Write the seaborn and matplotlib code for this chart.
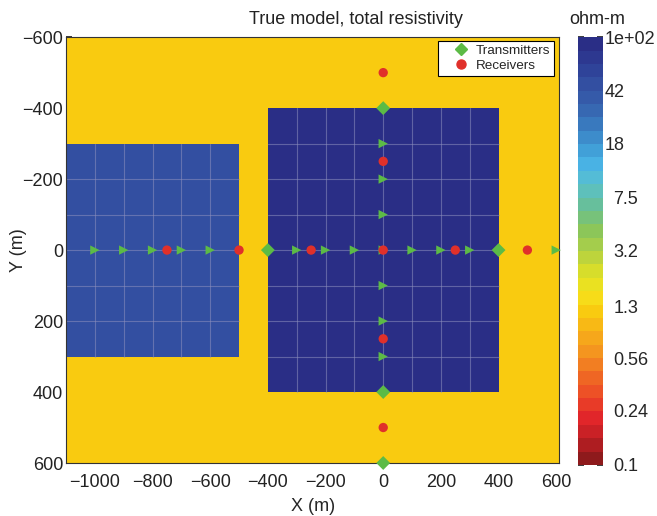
import numpy as np
import matplotlib
matplotlib.use("Agg")
import matplotlib.pyplot as plt
from matplotlib.colors import LinearSegmentedColormap, LogNorm
from matplotlib.lines import Line2D
from matplotlib.transforms import ScaledTranslation
import seaborn as sns
import pandas as pd

# model: background plus two resistive blocks (ohm-m)
background_rho = 1.1
block_names = ["left", "right"]
block_x0 = [-1100, -400]
block_x1 = [-500, 400]
block_y0 = [-300, -400]
block_y1 = [300, 400]
block_rho = [45, 100]
cell_size = 100

# transmitters
tx_x = [-1000, -900, -800, -700, -600, -400, -300, -200, -100, 0, 100, 200, 300, 400, 600,
        0, 0, 0, 0, 0, 0, 0, 0, 0]
tx_y = [0, 0, 0, 0, 0, 0, 0, 0, 0, 0, 0, 0, 0, 0, 0,
        -400, -300, -200, -100, 100, 200, 300, 400, 600]
tx_kind = [">", ">", ">", ">", ">", "D", ">", ">", ">", ">", ">", ">", ">", "D", ">",
           "D", ">", ">", ">", ">", ">", ">", "D", "D"]

# receivers
rx_x = [-750, -500, -250, 0, 250, 500, 0, 0, 0, 0]
rx_y = [0, 0, 0, 0, 0, 0, -500, -250, 250, 500]

cbar_ticks = [0.1, 0.24, 0.56, 1.3, 3.2, 7.5, 18, 42, 100]
cbar_ticklabels = ["0.1", "0.24", "0.56", "1.3", "3.2", "7.5", "18", "42", "1e+02"]

# banded jet-like colour map, low resistivity = red
cmap_colors = ["#8e1a1c", "#c01f24", "#e3262a", "#ec4a26", "#f06a24", "#f39020", "#f7ac1a",
               "#f9c80f", "#f6e31c", "#d8dd2a", "#b0d045", "#8bc65a", "#6bbf8f", "#5dc0c0",
               "#4cb8e8", "#3f9bd5", "#3a7cc0", "#3662ae", "#3350a2", "#2e3e96", "#2a2e86"]
cmap = LinearSegmentedColormap.from_list("res", cmap_colors, N=32)

sns.set_theme(style="white")
plt.rcParams["font.family"] = ["Liberation Sans", "DejaVu Sans"]

# build the resistivity grid
x_edges = np.arange(-1100, 601, cell_size).astype(float)
x_edges[-1] = 610
y_edges = np.arange(-600, 601, cell_size).astype(float)
xc = 0.5 * (x_edges[:-1] + x_edges[1:])
yc = 0.5 * (y_edges[:-1] + y_edges[1:])
rho = np.full((len(yc), len(xc)), background_rho)
for x0, x1, y0, y1, r in zip(block_x0, block_x1, block_y0, block_y1, block_rho):
    mask = ((xc[None, :] > x0) & (xc[None, :] < x1) & (yc[:, None] > y0) & (yc[:, None] < y1))
    rho[mask] = r

fig = plt.figure(figsize=(6.57, 5.16), dpi=100)
ax = fig.add_axes([0.1005, 0.1027, 0.7505, 0.8253])
cax = fig.add_axes([0.880, 0.099, 0.038, 0.829])

norm = LogNorm(vmin=0.1, vmax=100)
mesh = ax.pcolormesh(x_edges, y_edges, rho, cmap=cmap, norm=norm, shading="flat")

# mesh lines inside the blocks
for x0, x1, y0, y1 in zip(block_x0, block_x1, block_y0, block_y1):
    for gx in range(x0 + cell_size, x1, cell_size):
        ax.plot([gx, gx], [y0, y1], color="#8d90bd", lw=0.8, alpha=0.55, zorder=2)
    for gy in range(y0 + cell_size, y1, cell_size):
        ax.plot([x0, x1], [gy, gy], color="#8d90bd", lw=0.8, alpha=0.55, zorder=2)

green = "#5cbb46"
red = "#e0302a"
tx = pd.DataFrame({"x": tx_x, "y": tx_y, "kind": tx_kind})
for kind, sub in tx.groupby("kind"):
    size = 50 if kind == "D" else 45
    sns.scatterplot(data=sub, x="x", y="y", marker=kind, s=size, color=green,
                    edgecolor="none", ax=ax, zorder=4, clip_on=False)
rx = pd.DataFrame({"x": rx_x, "y": rx_y})
sns.scatterplot(data=rx, x="x", y="y", marker="o", s=45, color=red, edgecolor="none",
                ax=ax, zorder=5, clip_on=False)

ax.set_xlim(-1100, 610)
ax.set_ylim(600, -600)
ax.set_xticks([-1000, -800, -600, -400, -200, 0, 200, 400, 600])
ax.set_yticks([-600, -400, -200, 0, 200, 400, 600])
ax.tick_params(direction="in", length=4, labelsize=13, colors="#222222",
               bottom=True, left=True)
ax.tick_params(axis="x", pad=8)
ax.tick_params(axis="y", pad=2)
for s in ax.spines.values():
    s.set_color("#333333")
    s.set_linewidth(0.8)
ax.set_xlabel("X (m)", fontsize=13, labelpad=5)
ax.set_ylabel("Y (m)", fontsize=13, labelpad=-3)
fig.text(356 / 657, 1 - 19 / 516, "True model, total resistivity", fontsize=13,
         ha="center", va="center", color="#222222")

handles = [Line2D([], [], marker="D", color=green, ls="none", markersize=6.5),
           Line2D([], [], marker="o", color=red, ls="none", markersize=6.5)]
leg = ax.legend(handles, ["Transmitters", "Receivers"], loc="upper right",
                fontsize=9.7, frameon=True, fancybox=False, borderpad=0.3,
                handletextpad=-0.3, labelspacing=0.15, handlelength=2.8,
                borderaxespad=0.2, bbox_to_anchor=(0.995, 0.998),
                framealpha=1, facecolor="white")
leg.get_frame().set_edgecolor("black")
leg.get_frame().set_linewidth(0.8)

cb = fig.colorbar(mesh, cax=cax)
cb.set_ticks(cbar_ticks)
cb.set_ticklabels(cbar_ticklabels)
cb.ax.minorticks_off()
cb.ax.tick_params(direction="in", length=4, labelsize=13, left=True, right=True, pad=1)
cb.outline.set_linewidth(0)
# the lower labels sit a little further from the bar, as in the original figure
shift = ScaledTranslation(0.09, 0, fig.dpi_scale_trans)
for lab in cb.ax.get_yticklabels()[:6]:
    lab.set_transform(lab.get_transform() + shift)
fig.text(597 / 657, 1 - 19 / 516, "ohm-m", fontsize=13, ha="center", va="center",
         color="#222222")

fig.savefig("out.png", dpi=100)
